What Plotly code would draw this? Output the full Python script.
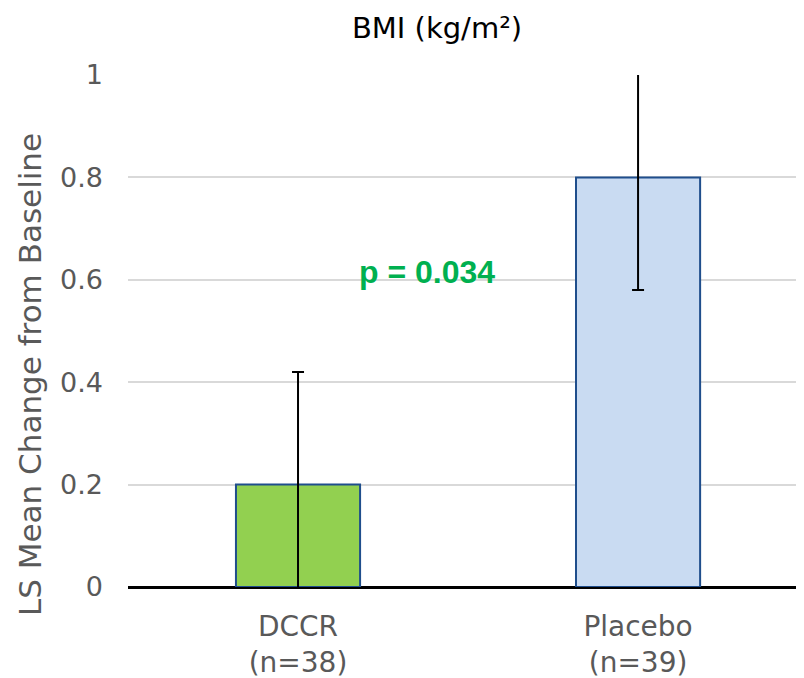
import plotly.graph_objects as go

categories = ["DCCR<br>(n=38)", "Placebo<br>(n=39)"]
values = [0.2, 0.8]
errors = [0.22, 0.22]
bar_colors = ["#92D050", "#C9DBF2"]
y_ticks = [0, 0.2, 0.4, 0.6, 0.8, 1]
y_tick_labels = ["0", "0.2", "0.4", "0.6", "0.8", "1"]
p_text = "p = 0.034"
y_title = "LS Mean Change from Baseline"
chart_title = "BMI (kg/m²)"

font_family = "DejaVu Sans"
gray = "#595959"

W, H = 796, 670
L, R, T, B = 120, 0, 67, 91
plot_w = W - L - R
plot_h = H - T - B

fig = go.Figure()
fig.add_trace(go.Bar(
    x=categories,
    y=values,
    width=0.365,
    marker=dict(color=bar_colors, line=dict(color="#1F4E8C", width=2)),
    error_y=dict(type="data", array=errors, visible=True, color="black",
                 thickness=2, width=6),
    cliponaxis=True,
))

fig.add_annotation(x=0.38, y=0.615, xref="x", yref="y", text=f"<b>{p_text}</b>",
                   showarrow=False,
                   font=dict(family="Liberation Sans", size=32, color="#00B050"))

# rotated y-axis title placed as annotation
fig.add_annotation(x=(22 - L) / plot_w, y=(H - B - 367) / plot_h,
                   xref="paper", yref="paper", text=y_title, textangle=-90,
                   showarrow=False, xanchor="center", yanchor="middle",
                   font=dict(family=font_family, size=31, color=gray))

fig.update_layout(
    width=W, height=H,
    margin=dict(l=L, r=R, t=T, b=B),
    plot_bgcolor="white", paper_bgcolor="white",
    showlegend=False,
    title=dict(text=chart_title, x=429 / W, xanchor="center",
               y=1 - 20 / H, yanchor="middle",
               font=dict(family=font_family, size=29, color="black")),
    font=dict(family=font_family, size=27, color=gray),
)
fig.update_xaxes(range=[-0.5, 1.488], showgrid=False, ticks="",
                 ticklabelstandoff=20,
                 tickfont=dict(family=font_family, size=28, color=gray),
                 showline=False, zeroline=False)
fig.update_yaxes(range=[0, 1], tickvals=y_ticks, ticktext=y_tick_labels,
                 showgrid=True, gridcolor="#D9D9D9", gridwidth=2,
                 zeroline=True, zerolinecolor="black", zerolinewidth=3,
                 showline=False, ticks="",
                 ticklabelstandoff=24,
                 tickfont=dict(family=font_family, size=27, color=gray))

fig.write_html("out.html")
